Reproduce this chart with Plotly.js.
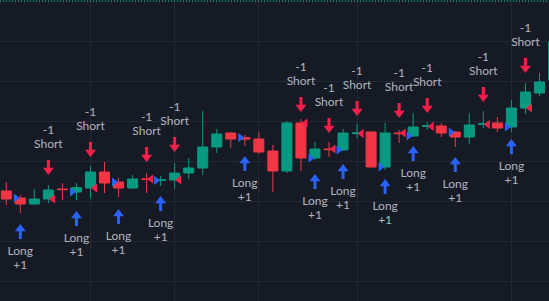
<!DOCTYPE html>
<html><head><meta charset="utf-8">
<script src="https://cdn.plot.ly/plotly-3.0.1.min.js"></script>
<style>html,body{margin:0;padding:0;background:#161a25;overflow:hidden}#chart{width:549px;height:301px}</style>
</head><body><div id="chart"></div>
<script>
// ---- data (bar index, OHLC prices) ----
const bars   = [0,1,2,3,4,5,6,7,8,9,10,11,12,13,14,15,16,17,18,19,20,21,22,23,24,25,26,27,28,29,30,31,32,33,34,35,36,37,38,39];
const openP  = [122.25,120.5,119,120.25,122.75,122,123,127,124.5,123,125.25,124.9,125,126.75,128,133.25,136.75,135.6,135.25,132.25,127.25,139.25,130.5,132.75,132.5,136.6,137,128.25,136.75,136,138.4,138.5,137,135.75,138.9,139.25,138.25,143,146.75,150];
const highP  = [124.5,121.25,122.75,123.75,124.25,124.25,128.5,129.5,125.5,126.25,126.75,126,129.25,130.5,142.25,137.75,137,136.25,137,133.75,139.75,140.25,134.5,134.5,137.75,139,137.1,139.25,137.5,141.75,139.5,139.25,137.25,141.75,142.25,140.75,145,149.25,151.75,160.5];
const lowP   = [118.75,116.75,118.75,119.25,120,120,120.5,121.75,120.75,122.75,121.75,123.5,122.75,125.25,126.25,131.75,133,133.5,131.5,122,126.75,127.25,130,130.75,132.25,135.5,128.1,127.5,134.25,135.75,137.5,135.75,133.25,134,138,137,137,141.5,146,148.75];
const closeP = [120.25,119,120.25,122.5,122.6,123.1,127,124.25,123,125.25,125.2,125.05,126.75,128,133.25,136.5,135.25,135.2,132,127.25,139.25,130.5,132.75,132.6,136.75,136.75,128.25,136.75,136.6,138.25,138.55,136.75,135.75,138.75,139.05,138,143,147,149.5,159.5];

// strategy signals: bar index and arrow-tip price
const longIdx   = [1,5,8,11,17,22,24,27,29,32,36];
const longTip   = [114,117.25,117.75,121,131,126.5,129,125.25,133.5,130.75,135.25];
const shortIdx  = [3,6,10,12,21,23,25,28,30,34,37];
const shortTip  = [126.25,130.75,129.5,132,142,136.75,141,140.5,141.75,144.5,151.75];
const longText  = ['Long', '+1'];
const shortText = ['Short', '-1'];
const dateGrid  = [6,12,18,25,36];

// ---- styling / layout constants ----
const W = 549, H = 301;
const xRange = [-0.449, 38.68];
const yRange = [94.75, 170];
const pp = (yRange[1] - yRange[0]) / H;      // price per pixel
const GREEN = '#089981', RED = '#f23645', BLUE = '#2962ff', SRED = '#fa1e4a', TXT = '#b2b5be';

const traces = [];
traces.push({
  type: 'candlestick', x: bars, open: openP, high: highP, low: lowP, close: closeP,
  increasing: {line: {color: GREEN, width: 1}, fillcolor: GREEN},
  decreasing: {line: {color: RED, width: 1}, fillcolor: RED},
  whiskerwidth: 0, hoverinfo: 'skip'
});

// fill markers at signal bar open
traces.push({type:'scatter', mode:'markers', x: longIdx.map(i => i - 0.32), y: longIdx.map(i => openP[i]),
  marker:{symbol:'triangle-right', size:8, color:BLUE}, hoverinfo:'skip'});
traces.push({type:'scatter', mode:'markers', x: shortIdx.map(i => i + 0.32), y: shortIdx.map(i => openP[i]),
  marker:{symbol:'triangle-left', size:8, color:SRED}, hoverinfo:'skip'});

// arrows
function shaft(idx, tip, dir) { // dir: -1 below (long), +1 above (short)
  const xs = [], ys = [];
  idx.forEach((b, k) => { xs.push(b, b, null); ys.push(tip[k] + dir*6*pp, tip[k] + dir*15*pp, null); });
  return {xs, ys};
}
const ls = shaft(longIdx, longTip, -1), ss = shaft(shortIdx, shortTip, 1);
traces.push({type:'scatter', mode:'lines', x: ls.xs, y: ls.ys, line:{color:BLUE, width:3}, hoverinfo:'skip'});
traces.push({type:'scatter', mode:'lines', x: ss.xs, y: ss.ys, line:{color:SRED, width:3}, hoverinfo:'skip'});
traces.push({type:'scatter', mode:'markers', x: longIdx, y: longTip.map(v => v - 4.75*pp),
  marker:{symbol:'triangle-up', size:9.5, color:BLUE}, hoverinfo:'skip'});
traces.push({type:'scatter', mode:'markers', x: shortIdx, y: shortTip.map(v => v + 4.75*pp),
  marker:{symbol:'triangle-down', size:9.5, color:SRED}, hoverinfo:'skip'});

// labels
const font = {family:'Lato, sans-serif', size:12, color:TXT};
traces.push({type:'scatter', mode:'text', x: longIdx, y: longTip.map(v => v - 28*pp), text: longIdx.map(() => longText[0]), textfont: font, textposition:'middle center', hoverinfo:'skip'});
traces.push({type:'scatter', mode:'text', x: longIdx, y: longTip.map(v => v - 42*pp), text: longIdx.map(() => longText[1]), textfont: font, textposition:'middle center', hoverinfo:'skip'});
traces.push({type:'scatter', mode:'text', x: shortIdx, y: shortTip.map(v => v + 30*pp), text: shortIdx.map(() => shortText[0]), textfont: font, textposition:'middle center', hoverinfo:'skip'});
traces.push({type:'scatter', mode:'text', x: shortIdx, y: shortTip.map(v => v + 44*pp), text: shortIdx.map(() => shortText[1]), textfont: font, textposition:'middle center', hoverinfo:'skip'});

const layout = {
  width: W, height: H, margin: {l:0, r:0, t:0, b:0, pad:0},
  paper_bgcolor: '#161a25', plot_bgcolor: '#161a25',
  showlegend: false, boxgap: 0.15, boxgroupgap: 0.16,
  xaxis: {range: xRange, rangeslider: {visible: false}, showgrid: true, gridcolor: '#242835', gridwidth: 1,
          tickmode: 'array', tickvals: dateGrid, showticklabels: false, ticks: '', zeroline: false, showline: false, fixedrange: true},
  yaxis: {range: yRange, showgrid: true, gridcolor: '#242835', gridwidth: 1, tick0: 129.625, dtick: 10,
          showticklabels: false, ticks: '', zeroline: false, showline: false, fixedrange: true},
  shapes: [{type:'line', xref:'paper', yref:'paper', x0:0, x1:1, y0:1 - 1/H, y1:1 - 1/H,
            line:{color: GREEN, width: 1.5, dash: '1px,2px'}}]
};
Plotly.newPlot('chart', traces, layout, {displayModeBar: false, staticPlot: true});
</script></body></html>
